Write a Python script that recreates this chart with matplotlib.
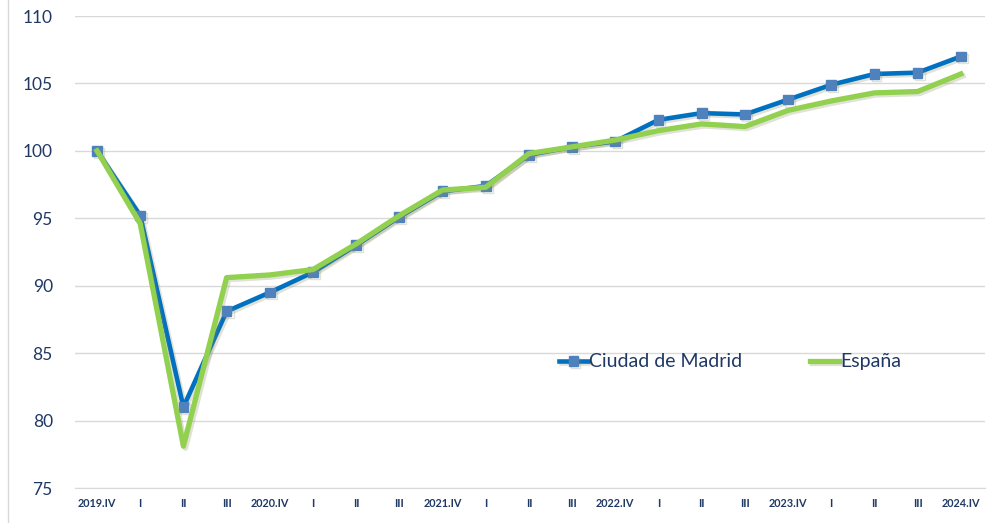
import matplotlib.pyplot as plt
import matplotlib.patheffects as pe
from matplotlib.lines import Line2D

# Data
quarters = ['2019.IV', 'I', 'II', 'III', '2020.IV', 'I', 'II', 'III',
            '2021.IV', 'I', 'II', 'III', '2022.IV', 'I', 'II', 'III',
            '2023.IV', 'I', 'II', 'III', '2024.IV']
madrid = [100.0, 95.2, 81.0, 88.1, 89.5, 91.0, 93.0, 95.1, 97.0, 97.4,
          99.7, 100.3, 100.7, 102.3, 102.8, 102.7, 103.8, 104.9, 105.7,
          105.8, 107.0]
espana = [100.0, 94.6, 78.1, 90.6, 90.8, 91.2, 93.1, 95.2, 97.1, 97.3,
          99.8, 100.3, 100.8, 101.5, 102.0, 101.8, 103.0, 103.7, 104.3,
          104.4, 105.7]
yticks = [75, 80, 85, 90, 95, 100, 105, 110]

navy = '#1F3864'
plt.rcParams['font.family'] = ['Lato', 'DejaVu Sans']

fig = plt.figure(figsize=[10, 5.23], dpi=100)
ax = fig.add_axes([0.075, 0.0669, 0.91, 0.9025])

x = range(len(quarters))
shadow = [pe.SimpleLineShadow(offset=(1.5, -1.5), shadow_color='#8a8a60',
                              alpha=0.25), pe.Normal()]
ax.plot(x, madrid, color='#0070C0', lw=3.3, marker='s', ms=7,
        mfc='#4F81BD', mec='#4F81BD', label='Ciudad de Madrid',
        path_effects=shadow, zorder=3)
ax.plot(x, espana, color='#92D050', lw=3.8, label='España',
        path_effects=shadow, zorder=4)

ax.set_xlim(-0.51, 20.56)
ax.set_ylim(75, 110)
ax.set_yticks(yticks)
ax.set_xticks(list(x))
ax.set_xticklabels(quarters, fontsize=7.8, fontweight='bold', color=navy)
for lab in ax.get_yticklabels():
    lab.set_fontsize(12.5)
    lab.set_color(navy)
ax.tick_params(length=0)
ax.tick_params(axis='y', pad=16)
ax.tick_params(axis='x', pad=7)
ax.grid(axis='y', color='#D9D9D9', lw=1)
for s in ['top', 'right', 'left']:
    ax.spines[s].set_visible(False)
ax.spines['bottom'].set_color('#D9D9D9')

leg = ax.legend(loc='center', bbox_to_anchor=(0.72, 0.267), ncol=2,
                frameon=False, fontsize=14, handlelength=1.5,
                handletextpad=0.05, columnspacing=3.5)
for t in leg.get_texts():
    t.set_color(navy)

fig.add_artist(Line2D([0.008, 0.008], [0.0, 1.0], color='#D9D9D9', lw=1))

plt.savefig('out.png', dpi=100)
